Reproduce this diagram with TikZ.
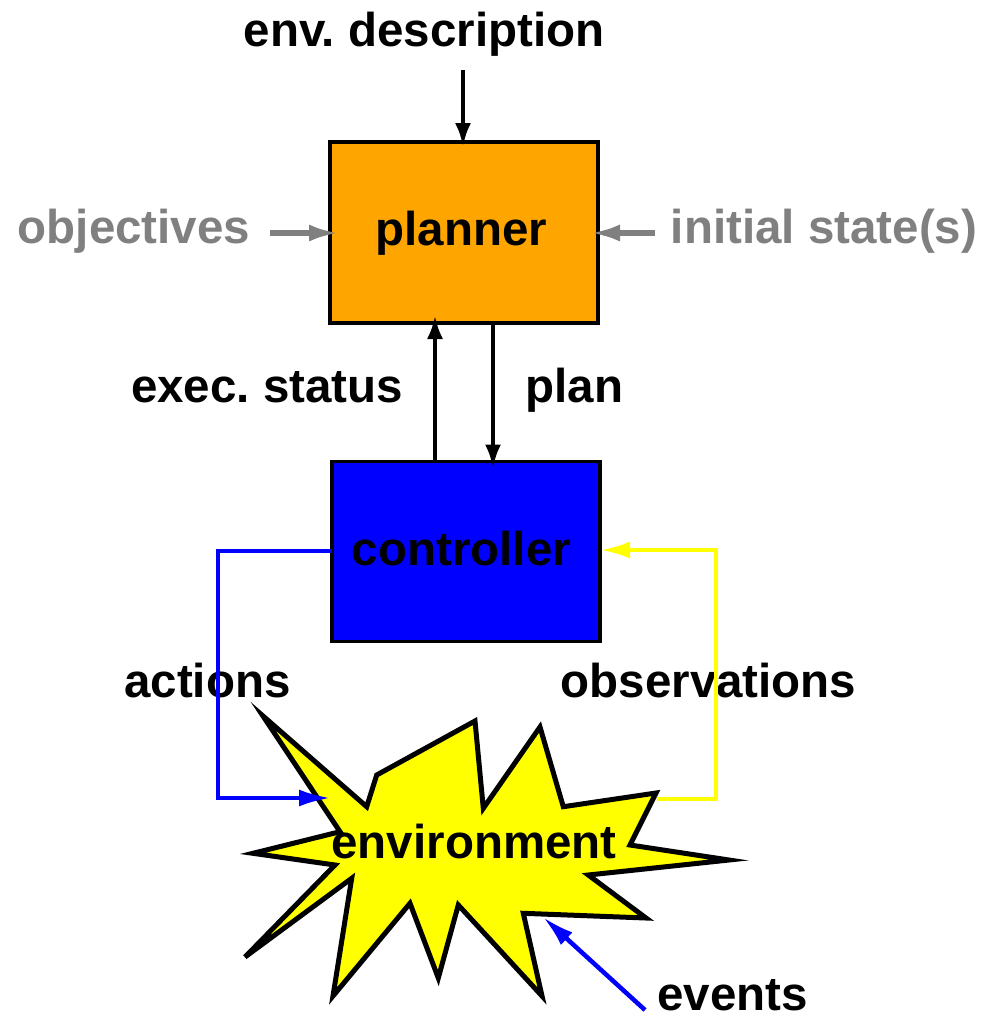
\documentclass[tikz,border=0pt]{standalone}
\usepackage{fontspec}
\setmainfont{Liberation Sans}
\usetikzlibrary{arrows.meta}
\definecolor{boxorange}{HTML}{FFA500}
\definecolor{boxblue}{HTML}{0000FF}
\definecolor{burstyellow}{HTML}{FFFF00}
\definecolor{softgray}{HTML}{808080}
\frenchspacing
\begin{document}
\begin{tikzpicture}[x=1pt,y=-1pt,
  lbl/.style={font=\fontsize{47.5}{57}\selectfont\bfseries, inner sep=0pt, anchor=base},
  graylbl/.style={lbl, text=softgray},
  box/.style={draw=black, line width=3.5pt, inner sep=0pt, outer sep=0pt},
  blkarrow/.style={draw=black, line width=4.5pt, -{Latex[length=24pt,width=16pt]}},
  grayarrow/.style={draw=softgray, line width=5.5pt, -{Latex[length=30pt,width=17pt]}},
  bluearrow/.style={draw=boxblue, line width=4.5pt, -{Latex[length=32pt,width=17pt]}},
  yelarrow/.style={draw=burstyellow, line width=4.5pt, -{Latex[length=30pt,width=17pt]}},
  burst/.style={draw=black, fill=burstyellow, line width=5pt, line join=miter}]
\useasboundingbox (0,0) rectangle (1000,1020);

% the two blocks
\node[box, fill=boxorange, minimum width=268pt, minimum height=181pt] (planner) at (464,232.5) {};
\node[box, fill=boxblue, minimum width=268pt, minimum height=180pt] (controller) at (466,551.5) {};

% the environment burst
\draw[burst] (263,716) -- (366.7,806.7) -- (376.7,775) -- (475,721) -- (483.3,808.3)
  -- (540,727) -- (563.3,806.7) -- (656,793) -- (630,845) -- (729,860)
  -- (588.3,875) -- (646,918) -- (523.3,913.3) -- (542,996) -- (458.3,905)
  -- (438.3,978) -- (410,903.3) -- (333,996) -- (351.7,878.3) -- (245,957)
  -- (335,865) -- (253,853.3) -- (340,831.7) -- cycle;

% texts
\node[lbl] (plannertxt) at (461.5,245) {planner};
\node[lbl] (controllertxt) at (461.5,565) {controller};
\node[lbl] (env) at (474,858) {environment};
\node[lbl] (envdesc) at (424,46) {env. description};
\node[graylbl] (objectives) at (134,243) {objectives};
\node[graylbl] (initstates) at (824,243) {initial state(s)};
\node[lbl] (execstatus) at (267,402) {exec. status};
\node[lbl] (plan) at (574.5,402) {plan};
\node[lbl] (actions) at (207.5,697) {actions};
\node[lbl] (observations) at (708.5,697) {observations};
\node[lbl] (events) at (732.5,1010) {events};

% free ends of the connectors
\coordinate (envin) at (463,70);
\coordinate (objout) at (270,233);
\coordinate (initout) at (655,233);
\coordinate (actin) at (331,798);
\coordinate (obsout) at (657,799);
\coordinate (evtail) at (645,1010);
\coordinate (evtip) at (543,917);

% planner inputs
\draw[blkarrow, shorten >=-5pt] (envin) -- (envin |- planner.north);
\draw[grayarrow, shorten >=-9pt] (objout) -- (objout -| planner.west);
\draw[grayarrow, shorten >=-8pt] (initout) -- (initout -| planner.east);

% planner <-> controller
\draw[blkarrow, shorten >=-8pt] (controller.north -| 435,0) -- (planner.south -| 435,0);
\draw[blkarrow, shorten >=-7pt] (planner.south -| 493,0) -- (controller.north -| 493,0);

% controller <-> environment loop
\draw[bluearrow] (controller.west |- 0,551) -- (218,551) -- (218,798) -- (actin);
\draw[yelarrow] (obsout) -- (716,799) -- (716,550) -- (controller.east |- 0,550);
\draw[bluearrow] (evtail) -- (evtip);
\end{tikzpicture}
\end{document}
